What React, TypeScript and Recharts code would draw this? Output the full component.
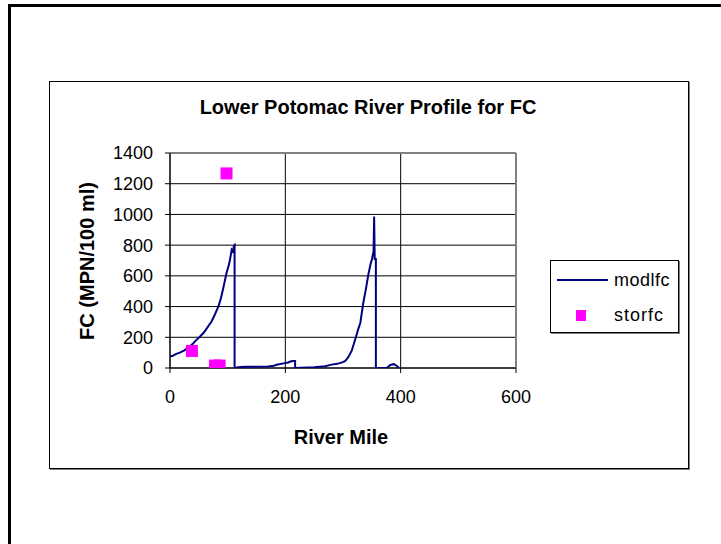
import { ScatterChart, Scatter, XAxis, YAxis, CartesianGrid, ReferenceLine } from "recharts";

// modlfc: model profile, [river mile, FC] in drawing order (vertical drops repeat the mile)
const MODL_MILES = [
  0, 5, 10, 17, 25, 32, 38, 45, 52, 58, 65, 72, 78, 84, 88, 93, 98, 102, 104, 107, 109, 111, 112, 112,
  118, 130, 150, 170, 180, 185, 197, 205, 210, 214, 217, 217,
  240, 250, 269, 280, 290, 300, 304, 309, 315, 321, 327, 330, 335, 340, 344, 348, 350, 353, 354, 355, 357, 357,
  376, 382, 388, 393, 397,
];
const MODL_FC = [
  75, 80, 90, 100, 115, 135, 152, 180, 205, 228, 265, 303, 350, 401, 450, 531, 618, 670, 705, 770, 760, 796, 800, 0,
  5, 8, 8, 10, 15, 21, 30, 36, 44, 46, 46, 0,
  3, 5, 12, 22, 27, 38, 46, 70, 111, 184, 260, 293, 420, 520, 610, 680, 705, 760, 987, 710, 710, 0,
  0, 20, 25, 15, 0,
];

// storfc: observed samples
const STOR_MILES = [38, 78, 86, 98];
const STOR_FC = [111, 16, 16, 1267];

const X_TICKS = [0, 200, 400, 600];
const Y_TICKS = [0, 200, 400, 600, 800, 1000, 1200, 1400];

const NAVY = "#000080";
const MAGENTA = "#FF00FF";
const FONT = "Arial, 'Liberation Sans', sans-serif";

const modlfc = MODL_MILES.map((x, i) => ({ x, y: MODL_FC[i] }));
const storfc = STOR_MILES.map((x, i) => ({ x, y: STOR_FC[i] }));

const Square = (p: any) => <rect x={p.cx - 6} y={p.cy - 6} width={12} height={12} fill={MAGENTA} />;

export default function App() {
  const tick = { fontSize: 18, fill: "#000", fontFamily: FONT };
  return (
    <div style={{ position: "absolute", left: 0, top: 0, width: 721, height: 544, background: "#fff", fontFamily: FONT, overflow: "hidden" }}>
      {/* page frame */}
      <div style={{ position: "absolute", left: 8, top: 4, width: 720, height: 545, borderTop: "3px solid #000", borderLeft: "3px solid #000" }} />
      {/* chart area box */}
      <div style={{ position: "absolute", left: 49, top: 81, width: 638, height: 386, border: "1px solid #000", boxShadow: "1px 1px 0 #808080" }} />

      <div style={{ position: "absolute", left: 0, top: 0 }}>
        <ScatterChart width={721} height={544} margin={{ top: 153, right: 205, bottom: 146, left: 110 }}>
          <CartesianGrid stroke="#000" strokeWidth={1} />
          <XAxis
            type="number"
            dataKey="x"
            domain={[0, 600]}
            ticks={X_TICKS}
            height={30}
            tickSize={5}
            tickMargin={17}
            stroke="#000"
            tick={tick}
            allowDataOverflow
          />
          <YAxis
            type="number"
            dataKey="y"
            domain={[0, 1400]}
            ticks={Y_TICKS}
            width={60}
            tickSize={5}
            tickMargin={12}
            stroke="#000"
            tick={tick}
            allowDataOverflow
          />
          <ReferenceLine y={1400} stroke="#808080" strokeWidth={2} />
          <ReferenceLine x={600} stroke="#808080" strokeWidth={2} />
          <Scatter
            name="modlfc"
            data={modlfc}
            line={{ stroke: NAVY, strokeWidth: 2 }}
            lineType="joint"
            shape={() => <g />}
            isAnimationActive={false}
          />
          <Scatter name="storfc" data={storfc} shape={Square} isAnimationActive={false} />
        </ScatterChart>
      </div>

      {/* title and axis titles */}
      <div style={{ position: "absolute", left: 168, top: 95, width: 400, textAlign: "center", fontSize: 20, fontWeight: "bold", lineHeight: "24px" }}>
        Lower Potomac River Profile for FC
      </div>
      <div style={{ position: "absolute", left: 241, top: 425, width: 200, textAlign: "center", fontSize: 20, fontWeight: "bold", lineHeight: "24px" }}>
        River Mile
      </div>
      <div
        style={{
          position: "absolute",
          left: 87 - 100,
          top: 261 - 12,
          width: 200,
          textAlign: "center",
          fontSize: 20,
          fontWeight: "bold",
          lineHeight: "24px",
          transform: "rotate(-90deg)",
        }}
      >
        FC (MPN/100 ml)
      </div>

      {/* legend */}
      <div style={{ position: "absolute", left: 550, top: 260, width: 127, height: 71, border: "1px solid #000", boxShadow: "1px 1px 0 #808080" }}>
        <div style={{ position: "absolute", left: 6, top: 18, width: 51, height: 2, background: NAVY }} />
        <div style={{ position: "absolute", left: 63, top: 8, fontSize: 18, lineHeight: "22px", letterSpacing: 0.5 }}>modlfc</div>
        <div style={{ position: "absolute", left: 25, top: 49, width: 10, height: 11, background: MAGENTA }} />
        <div style={{ position: "absolute", left: 63, top: 43, fontSize: 18, lineHeight: "22px", letterSpacing: 1 }}>storfc</div>
      </div>
    </div>
  );
}
